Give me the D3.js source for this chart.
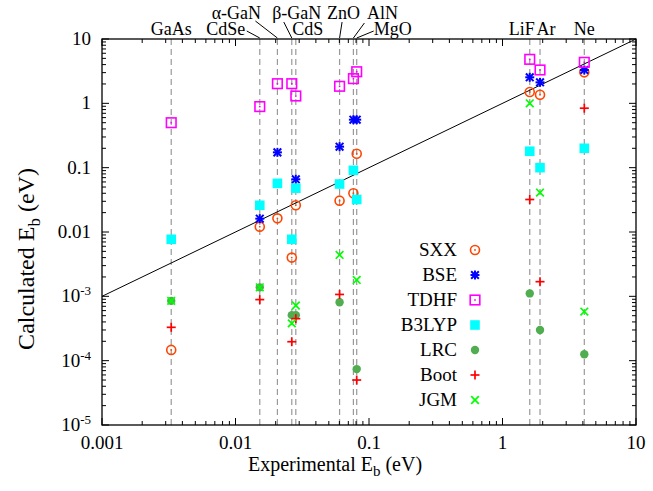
<!DOCTYPE html>
<html>
<head>
<meta charset="utf-8">
<script src="https://cdn.jsdelivr.net/npm/d3@7"></script>
<style>
  body { margin: 0; background: #fff; }
  text { font-family: "Liberation Serif", "DejaVu Serif", serif; fill: #000; }
</style>
</head>
<body>
<svg id="svg1" width="653" height="491"></svg>
<script>
// materials and their experimental binding energies (eV)
var materials = ["GaAs", "CdSe", "α-GaN", "β-GaN", "CdS", "ZnO", "AlN", "MgO", "LiF", "Ar", "Ne"];
var expEb = [0.0033, 0.0152, 0.0206, 0.0264, 0.0283, 0.0602, 0.0764, 0.0809, 1.6, 1.91, 4.1];

// calculated binding energies, one array per method (null = not computed)
var sxx   = [1.47e-4, 0.0121, 0.0163, 0.0040, 0.026, 0.0307, 0.040, 0.165, 1.50, 1.36, 3.03];
var bse   = [null, 0.0161, 0.173, null, 0.066, 0.212, 0.557, 0.557, 2.54, 2.12, 3.3];
var tdhf  = [0.5, 0.89, 2.02, 2.02, 1.30, 1.84, 2.42, 3.1, 4.83, 3.30, 4.34];
var b3lyp = [0.0077, 0.026, 0.057, 0.0077, 0.048, 0.0557, 0.091, 0.032, 0.18, 0.10, 0.20];
var lrc   = [8.5e-4, 1.38e-3, null, 5.1e-4, 5.1e-4, 8.1e-4, null, 7.4e-5, 1.11e-3, 3.0e-4, 1.26e-4];
var boot  = [3.3e-4, 8.9e-4, null, 1.97e-4, 4.5e-4, 1.07e-3, null, 5.0e-5, 0.032, 1.69e-3, 0.84];
var jgm   = [8.5e-4, 1.38e-3, null, 3.8e-4, 7.2e-4, 4.4e-3, null, 1.8e-3, 1.0, 0.041, 5.8e-4];

var methodNames = ["SXX", "BSE", "TDHF", "B3LYP", "LRC", "Boot", "JGM"];
var methodValues = [sxx, bse, tdhf, b3lyp, lrc, boot, jgm];

var xTicks = [0.001, 0.01, 0.1, 1, 10];
var xTickLabels = ["0.001", "0.01", "0.1", "1", "10"];
var yTicks = [1e-5, 1e-4, 1e-3, 0.01, 0.1, 1, 10];
var yTickLabels = [["10", "-5"], ["10", "-4"], ["10", "-3"], ["0.01", ""], ["0.1", ""], ["1", ""], ["10", ""]];

// look of each method's point
var styles = {
  SXX:   {shape: "dotcircle", color: "#ff4500"},
  BSE:   {shape: "star",      color: "#0000ff"},
  TDHF:  {shape: "dotsquare", color: "#ff00ff"},
  B3LYP: {shape: "fsquare",   color: "#00ffff"},
  LRC:   {shape: "fcircle",   color: "#50ad50"},
  Boot:  {shape: "plus",      color: "#ff0000"},
  JGM:   {shape: "cross",     color: "#00ff00"}
};

// where the material names sit above the frame (dx from the line, row 0 = low, 1 = high, leader start)
var labelLayout = {
  "GaAs":  {dx: 0,     row: 0},
  "CdSe":  {dx: -34,   row: 0, lead: [-13, 31]},
  "α-GaN": {dx: -41,   row: 1, lead: [-22, 21]},
  "β-GaN": {dx: 5,     row: 1, lead: [-8, 22]},
  "CdS":   {dx: 12,    row: 0},
  "ZnO":   {dx: 4,     row: 1, lead: [2.5, 22]},
  "AlN":   {dx: 29,    row: 1, lead: [11, 23]},
  "MgO":   {dx: 36,    row: 0, lead: [17, 31]},
  "LiF":   {dx: -8,    row: 0},
  "Ar":    {dx: 6,     row: 0},
  "Ne":    {dx: 0,     row: 0}
};

// plot frame (window.top is read-only, so no bare "top")
var plotLeft = 102, plotRight = 636, plotTop = 39, plotBottom = 425;

var svg = d3.select("#svg1");

var x = d3.scaleLog().domain([0.001, 10]).range([plotLeft, plotRight]);
var y = d3.scaleLog().domain([1e-5, 10]).range([plotBottom, plotTop]);

// minor tick values 2..9 in each decade
function minors(lo, hi) {
  var out = [];
  for (var e = lo; e < hi; e++) {
    for (var m = 2; m <= 9; m++) out.push(m * Math.pow(10, e));
  }
  return out;
}

// vertical dashed guide lines at the experimental values
svg.append("g")
  .selectAll("line")
  .data(expEb)
  .enter()
  .append("line")
  .attr("x1", function(d) { return x(d); })
  .attr("x2", function(d) { return x(d); })
  .attr("y1", plotTop)
  .attr("y2", plotBottom)
  .attr("stroke", "#999")
  .attr("stroke-width", 1.2)
  .attr("stroke-dasharray", "6,4");

// y = x reference line
svg.append("line")
  .attr("x1", x(0.001)).attr("y1", y(0.001))
  .attr("x2", x(10)).attr("y2", y(10))
  .attr("stroke", "#000")
  .attr("stroke-width", 1);

// ticks on all four sides, pointing inwards
var tickG = svg.append("g").attr("stroke", "#000").attr("stroke-width", 1);

function xTickMarks(vals, len) {
  vals.forEach(function(v) {
    tickG.append("line").attr("x1", x(v)).attr("x2", x(v)).attr("y1", plotBottom).attr("y2", plotBottom - len);
    tickG.append("line").attr("x1", x(v)).attr("x2", x(v)).attr("y1", plotTop).attr("y2", plotTop + len);
  });
}
function yTickMarks(vals, len) {
  vals.forEach(function(v) {
    tickG.append("line").attr("y1", y(v)).attr("y2", y(v)).attr("x1", plotLeft).attr("x2", plotLeft + len);
    tickG.append("line").attr("y1", y(v)).attr("y2", y(v)).attr("x1", plotRight).attr("x2", plotRight - len);
  });
}
xTickMarks(xTicks, 7);
xTickMarks(minors(-3, 1), 4);
yTickMarks(yTicks, 7);
yTickMarks(minors(-5, 1), 4);

// frame
svg.append("rect")
  .attr("x", plotLeft).attr("y", plotTop)
  .attr("width", plotRight - plotLeft).attr("height", plotBottom - plotTop)
  .attr("fill", "none")
  .attr("stroke", "#000")
  .attr("stroke-width", 1.3);

// x tick labels
svg.append("g")
  .selectAll("text")
  .data(xTicks)
  .enter()
  .append("text")
  .attr("x", function(d) { return x(d); })
  .attr("y", 449)
  .attr("text-anchor", "middle")
  .attr("font-size", 19)
  .text(function(d, i) { return xTickLabels[i]; });

// y tick labels, with superscript exponents
var yl = svg.append("g")
  .selectAll("text")
  .data(yTicks)
  .enter()
  .append("text")
  .attr("x", 91)
  .attr("y", function(d) { return y(d) + 6; })
  .attr("text-anchor", "end")
  .attr("font-size", 19);
yl.append("tspan").text(function(d, i) { return yTickLabels[i][0]; });
yl.append("tspan")
  .attr("font-size", 13)
  .attr("dy", -7)
  .text(function(d, i) { return yTickLabels[i][1]; });

// axis titles
var xt = svg.append("text")
  .attr("x", 335).attr("y", 471)
  .attr("text-anchor", "middle")
  .attr("font-size", 20);
xt.append("tspan").text("Experimental E");
xt.append("tspan").attr("font-size", 15).attr("dy", 5).text("b");
xt.append("tspan").attr("dy", -5).text(" (eV)");

var yt = svg.append("text")
  .attr("transform", "translate(34,259) rotate(-90)")
  .attr("text-anchor", "middle")
  .attr("font-size", 24);
yt.append("tspan").text("Calculated E");
yt.append("tspan").attr("font-size", 17).attr("dy", 6).text("b");
yt.append("tspan").attr("dy", -6).text(" (eV)");

// material names and leader lines above the frame
materials.forEach(function(m, i) {
  var lay = labelLayout[m];
  var px = x(expEb[i]);
  svg.append("text")
    .attr("x", px + lay.dx)
    .attr("y", lay.row ? 19 : 35)
    .attr("text-anchor", "middle")
    .attr("font-size", 18)
    .text(m);
  if (lay.lead) {
    svg.append("line")
      .attr("x1", px + lay.lead[0]).attr("y1", lay.lead[1])
      .attr("x2", px).attr("y2", plotTop - 1)
      .attr("stroke", "#000")
      .attr("stroke-width", 1);
  }
});

// draws one marker into a group, centred at (cx, cy)
function marker(g, shape, color, cx, cy) {
  if (shape === "dotcircle") {
    g.append("circle").attr("cx", cx).attr("cy", cy).attr("r", 4.5)
      .attr("fill", "none").attr("stroke", color).attr("stroke-width", 1.6);
    g.append("circle").attr("cx", cx).attr("cy", cy).attr("r", 0.9).attr("fill", color);
  } else if (shape === "dotsquare") {
    g.append("rect").attr("x", cx - 4.8).attr("y", cy - 4.8).attr("width", 9.6).attr("height", 9.6)
      .attr("fill", "none").attr("stroke", color).attr("stroke-width", 1.6);
    g.append("rect").attr("x", cx - 0.8).attr("y", cy - 0.8).attr("width", 1.6).attr("height", 1.6).attr("fill", color);
  } else if (shape === "fsquare") {
    g.append("rect").attr("x", cx - 4.8).attr("y", cy - 4.8).attr("width", 9.6).attr("height", 9.6)
      .attr("fill", color);
  } else if (shape === "fcircle") {
    g.append("circle").attr("cx", cx).attr("cy", cy).attr("r", 4.2).attr("fill", color);
  } else {
    var s = 4.5, segs = [];
    if (shape === "plus" || shape === "star") segs.push([-s, 0, s, 0], [0, -s, 0, s]);
    if (shape === "cross" || shape === "star") segs.push([-s * 0.85, -s * 0.85, s * 0.85, s * 0.85], [-s * 0.85, s * 0.85, s * 0.85, -s * 0.85]);
    segs.forEach(function(sg) {
      g.append("line")
        .attr("x1", cx + sg[0]).attr("y1", cy + sg[1])
        .attr("x2", cx + sg[2]).attr("y2", cy + sg[3])
        .attr("stroke", color).attr("stroke-width", shape === "star" ? 2 : 1.7);
    });
  }
}

// data points, drawn method by method
methodNames.forEach(function(name, k) {
  var st = styles[name];
  var pts = methodValues[k]
    .map(function(v, i) { return {ex: expEb[i], v: v}; })
    .filter(function(d) { return d.v !== null; });
  var g = svg.append("g").attr("class", "series-" + name);
  pts.forEach(function(d) {
    marker(g, st.shape, st.color, x(d.ex), y(d.v));
  });
});

// legend
var legend = svg.append("g").attr("class", "legend");
methodNames.forEach(function(name, k) {
  var ly = 250 + k * 25;
  legend.append("text")
    .attr("x", 457).attr("y", ly + 6)
    .attr("text-anchor", "end")
    .attr("font-size", 19)
    .text(name);
  marker(legend, styles[name].shape, styles[name].color, 475, ly);
});
</script>
</body>
</html>
